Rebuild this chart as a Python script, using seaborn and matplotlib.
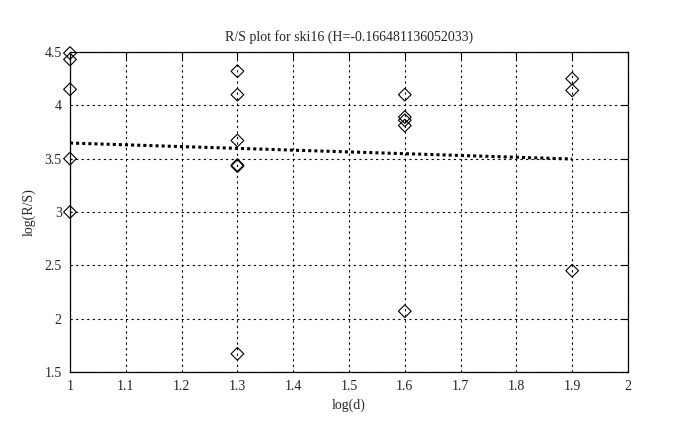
import numpy as np
import pandas as pd
import matplotlib
matplotlib.use("Agg")
import matplotlib.pyplot as plt
import seaborn as sns

# R/S points
log_d = [1.0, 1.0, 1.0, 1.0, 1.0,
         1.3, 1.3, 1.3, 1.3, 1.3, 1.3,
         1.6, 1.6, 1.6, 1.6, 1.6,
         1.9, 1.9, 1.9]
log_rs = [4.49, 4.43, 4.15, 3.50, 3.00,
          4.32, 4.10, 3.67, 3.44, 3.43, 1.67,
          4.10, 3.89, 3.86, 3.81, 2.07,
          4.25, 4.14, 2.45]

# fitted line
hurst = -0.166481136052033
intercept = 3.813
fit_x = [1.0, 1.9]

x_ticks = [1, 1.1, 1.2, 1.3, 1.4, 1.5, 1.6, 1.7, 1.8, 1.9, 2]
y_ticks = [1.5, 2, 2.5, 3, 3.5, 4, 4.5]

sns.set_style("white")
plt.rcParams['font.family'] = ['Liberation Serif', 'DejaVu Serif']
plt.rcParams['xtick.direction'] = 'in'
plt.rcParams['ytick.direction'] = 'in'

df = pd.DataFrame({"x": log_d, "y": log_rs})
fit = pd.DataFrame({"x": fit_x, "y": [hurst * v + intercept for v in fit_x]})

fig = plt.figure(figsize=(6.78, 4.30), dpi=100)
ax = fig.add_axes([70 / 678, 58 / 430, 558 / 678, 320 / 430])

sns.scatterplot(data=df, x="x", y="y", marker="D", s=42, facecolor="none",
                edgecolor="black", linewidth=0.8, ax=ax, zorder=3)
for c in ax.collections:
    c.set_clip_on(False)
sns.lineplot(data=fit, x="x", y="y", color="black", linestyle=(0, (1, 1)),
             linewidth=2.2, ax=ax, zorder=2)

ax.set_xlim(1, 2)
ax.set_ylim(1.5, 4.5)
ax.set_xticks(x_ticks)
ax.set_xticklabels([f"{v:g}" for v in x_ticks])
ax.set_yticks(y_ticks)
ax.set_yticklabels([f"{v:g}" for v in y_ticks])
ax.tick_params(labelsize=10, length=5, width=0.8, color="black",
               top=True, right=True, pad=6)
ax.grid(True, color="black", linestyle=(0, (2, 3)), linewidth=0.8)
for s in ax.spines.values():
    s.set_color("black")
    s.set_linewidth(0.9)

ax.set_xlabel("log(d)", fontsize=10, labelpad=4)
ax.set_ylabel("log(R/S)", fontsize=10, labelpad=6)
ax.set_title("R/S plot for ski16 (H=-0.166481136052033)", fontsize=10, pad=8)

fig.savefig("out.png", dpi=100)
